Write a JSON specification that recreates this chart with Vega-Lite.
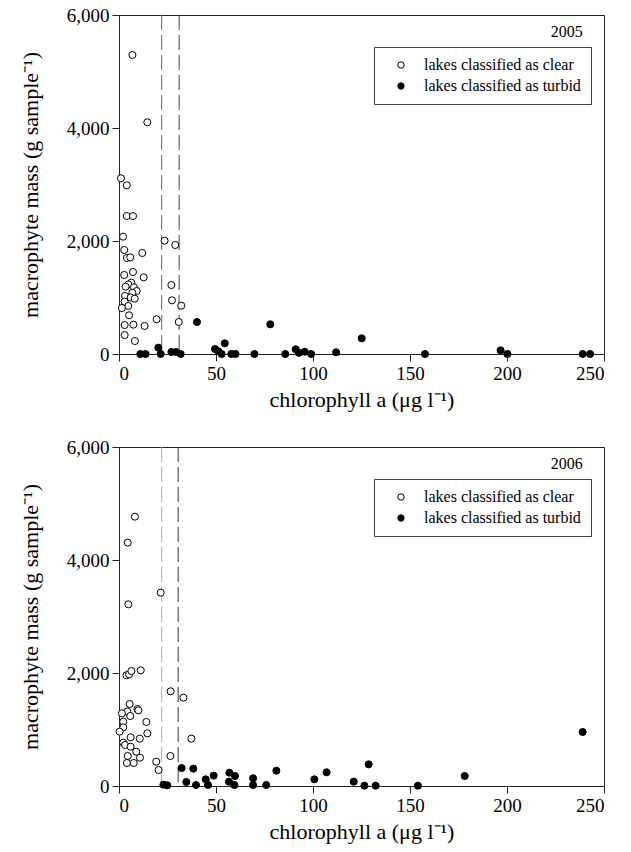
{
  "$schema": "https://vega.github.io/schema/vega-lite/v6.json",
  "background": "white",
  "padding": {"left": 18, "top": 5, "right": 5, "bottom": 5},
  "datasets": {
    "d2005": [
      {"chl": 6.9, "mass": 5292, "status": "lakes classified as clear"},
      {"chl": 14.6, "mass": 4101, "status": "lakes classified as clear"},
      {"chl": 1.0, "mass": 3110, "status": "lakes classified as clear"},
      {"chl": 4.0, "mass": 2985, "status": "lakes classified as clear"},
      {"chl": 4.0, "mass": 2442, "status": "lakes classified as clear"},
      {"chl": 7.2, "mass": 2442, "status": "lakes classified as clear"},
      {"chl": 2.1, "mass": 2077, "status": "lakes classified as clear"},
      {"chl": 23.5, "mass": 2006, "status": "lakes classified as clear"},
      {"chl": 29.0, "mass": 1929, "status": "lakes classified as clear"},
      {"chl": 2.7, "mass": 1841, "status": "lakes classified as clear"},
      {"chl": 12.0, "mass": 1788, "status": "lakes classified as clear"},
      {"chl": 4.1, "mass": 1699, "status": "lakes classified as clear"},
      {"chl": 5.8, "mass": 1711, "status": "lakes classified as clear"},
      {"chl": 7.2, "mass": 1451, "status": "lakes classified as clear"},
      {"chl": 2.7, "mass": 1398, "status": "lakes classified as clear"},
      {"chl": 12.7, "mass": 1357, "status": "lakes classified as clear"},
      {"chl": 6.4, "mass": 1262, "status": "lakes classified as clear"},
      {"chl": 4.8, "mass": 1230, "status": "lakes classified as clear"},
      {"chl": 3.4, "mass": 1192, "status": "lakes classified as clear"},
      {"chl": 7.7, "mass": 1180, "status": "lakes classified as clear"},
      {"chl": 27.0, "mass": 1221, "status": "lakes classified as clear"},
      {"chl": 9.1, "mass": 1115, "status": "lakes classified as clear"},
      {"chl": 6.9, "mass": 1085, "status": "lakes classified as clear"},
      {"chl": 3.1, "mass": 1027, "status": "lakes classified as clear"},
      {"chl": 6.0, "mass": 1000, "status": "lakes classified as clear"},
      {"chl": 8.1, "mass": 979, "status": "lakes classified as clear"},
      {"chl": 27.3, "mass": 950, "status": "lakes classified as clear"},
      {"chl": 2.9, "mass": 926, "status": "lakes classified as clear"},
      {"chl": 4.8, "mass": 850, "status": "lakes classified as clear"},
      {"chl": 1.5, "mass": 814, "status": "lakes classified as clear"},
      {"chl": 32.1, "mass": 855, "status": "lakes classified as clear"},
      {"chl": 5.2, "mass": 685, "status": "lakes classified as clear"},
      {"chl": 13.2, "mass": 496, "status": "lakes classified as clear"},
      {"chl": 19.4, "mass": 614, "status": "lakes classified as clear"},
      {"chl": 30.8, "mass": 566, "status": "lakes classified as clear"},
      {"chl": 2.9, "mass": 513, "status": "lakes classified as clear"},
      {"chl": 7.4, "mass": 519, "status": "lakes classified as clear"},
      {"chl": 2.9, "mass": 336, "status": "lakes classified as clear"},
      {"chl": 8.2, "mass": 230, "status": "lakes classified as clear"},
      {"chl": 40.2, "mass": 566, "status": "lakes classified as turbid"},
      {"chl": 78.0, "mass": 525, "status": "lakes classified as turbid"},
      {"chl": 20.3, "mass": 112, "status": "lakes classified as turbid"},
      {"chl": 11.0, "mass": 0, "status": "lakes classified as turbid"},
      {"chl": 13.7, "mass": 0, "status": "lakes classified as turbid"},
      {"chl": 21.5, "mass": 0, "status": "lakes classified as turbid"},
      {"chl": 27.0, "mass": 35, "status": "lakes classified as turbid"},
      {"chl": 29.5, "mass": 35, "status": "lakes classified as turbid"},
      {"chl": 31.8, "mass": 0, "status": "lakes classified as turbid"},
      {"chl": 49.5, "mass": 88, "status": "lakes classified as turbid"},
      {"chl": 51.2, "mass": 47, "status": "lakes classified as turbid"},
      {"chl": 54.5, "mass": 189, "status": "lakes classified as turbid"},
      {"chl": 52.9, "mass": 0, "status": "lakes classified as turbid"},
      {"chl": 57.9, "mass": 0, "status": "lakes classified as turbid"},
      {"chl": 60.1, "mass": 0, "status": "lakes classified as turbid"},
      {"chl": 69.8, "mass": 0, "status": "lakes classified as turbid"},
      {"chl": 85.7, "mass": 0, "status": "lakes classified as turbid"},
      {"chl": 91.1, "mass": 83, "status": "lakes classified as turbid"},
      {"chl": 92.8, "mass": 20, "status": "lakes classified as turbid"},
      {"chl": 95.7, "mass": 41, "status": "lakes classified as turbid"},
      {"chl": 99.0, "mass": 0, "status": "lakes classified as turbid"},
      {"chl": 111.9, "mass": 30, "status": "lakes classified as turbid"},
      {"chl": 125.1, "mass": 277, "status": "lakes classified as turbid"},
      {"chl": 157.7, "mass": 0, "status": "lakes classified as turbid"},
      {"chl": 196.7, "mass": 65, "status": "lakes classified as turbid"},
      {"chl": 200.2, "mass": 0, "status": "lakes classified as turbid"},
      {"chl": 239.0, "mass": 0, "status": "lakes classified as turbid"},
      {"chl": 242.8, "mass": 0, "status": "lakes classified as turbid"}
    ],
    "d2006": [
      {"chl": 8.2, "mass": 4767, "status": "lakes classified as clear"},
      {"chl": 4.5, "mass": 4307, "status": "lakes classified as clear"},
      {"chl": 4.8, "mass": 3215, "status": "lakes classified as clear"},
      {"chl": 21.5, "mass": 3422, "status": "lakes classified as clear"},
      {"chl": 3.8, "mass": 1959, "status": "lakes classified as clear"},
      {"chl": 5.2, "mass": 1976, "status": "lakes classified as clear"},
      {"chl": 6.4, "mass": 2035, "status": "lakes classified as clear"},
      {"chl": 11.2, "mass": 2047, "status": "lakes classified as clear"},
      {"chl": 26.6, "mass": 1676, "status": "lakes classified as clear"},
      {"chl": 33.2, "mass": 1563, "status": "lakes classified as clear"},
      {"chl": 5.5, "mass": 1451, "status": "lakes classified as clear"},
      {"chl": 9.5, "mass": 1363, "status": "lakes classified as clear"},
      {"chl": 10.0, "mass": 1340, "status": "lakes classified as clear"},
      {"chl": 4.2, "mass": 1320, "status": "lakes classified as clear"},
      {"chl": 1.5, "mass": 1286, "status": "lakes classified as clear"},
      {"chl": 5.8, "mass": 1239, "status": "lakes classified as clear"},
      {"chl": 14.1, "mass": 1133, "status": "lakes classified as clear"},
      {"chl": 2.2, "mass": 1139, "status": "lakes classified as clear"},
      {"chl": 2.2, "mass": 1038, "status": "lakes classified as clear"},
      {"chl": 0.3, "mass": 962, "status": "lakes classified as clear"},
      {"chl": 14.6, "mass": 932, "status": "lakes classified as clear"},
      {"chl": 37.3, "mass": 838, "status": "lakes classified as clear"},
      {"chl": 6.0, "mass": 862, "status": "lakes classified as clear"},
      {"chl": 10.7, "mass": 838, "status": "lakes classified as clear"},
      {"chl": 2.2, "mass": 767, "status": "lakes classified as clear"},
      {"chl": 3.1, "mass": 726, "status": "lakes classified as clear"},
      {"chl": 6.0, "mass": 696, "status": "lakes classified as clear"},
      {"chl": 8.9, "mass": 608, "status": "lakes classified as clear"},
      {"chl": 4.5, "mass": 531, "status": "lakes classified as clear"},
      {"chl": 26.5, "mass": 531, "status": "lakes classified as clear"},
      {"chl": 10.8, "mass": 501, "status": "lakes classified as clear"},
      {"chl": 4.1, "mass": 407, "status": "lakes classified as clear"},
      {"chl": 7.6, "mass": 407, "status": "lakes classified as clear"},
      {"chl": 19.2, "mass": 431, "status": "lakes classified as clear"},
      {"chl": 20.4, "mass": 283, "status": "lakes classified as clear"},
      {"chl": 22.9, "mass": 24, "status": "lakes classified as turbid"},
      {"chl": 24.9, "mass": 12, "status": "lakes classified as turbid"},
      {"chl": 32.3, "mass": 318, "status": "lakes classified as turbid"},
      {"chl": 38.3, "mass": 307, "status": "lakes classified as turbid"},
      {"chl": 34.7, "mass": 71, "status": "lakes classified as turbid"},
      {"chl": 39.7, "mass": 18, "status": "lakes classified as turbid"},
      {"chl": 44.7, "mass": 118, "status": "lakes classified as turbid"},
      {"chl": 48.8, "mass": 183, "status": "lakes classified as turbid"},
      {"chl": 45.9, "mass": 18, "status": "lakes classified as turbid"},
      {"chl": 56.9, "mass": 236, "status": "lakes classified as turbid"},
      {"chl": 56.7, "mass": 77, "status": "lakes classified as turbid"},
      {"chl": 59.8, "mass": 177, "status": "lakes classified as turbid"},
      {"chl": 59.5, "mass": 18, "status": "lakes classified as turbid"},
      {"chl": 69.1, "mass": 136, "status": "lakes classified as turbid"},
      {"chl": 69.1, "mass": 18, "status": "lakes classified as turbid"},
      {"chl": 75.9, "mass": 18, "status": "lakes classified as turbid"},
      {"chl": 81.1, "mass": 271, "status": "lakes classified as turbid"},
      {"chl": 100.7, "mass": 118, "status": "lakes classified as turbid"},
      {"chl": 107.0, "mass": 242, "status": "lakes classified as turbid"},
      {"chl": 121.0, "mass": 77, "status": "lakes classified as turbid"},
      {"chl": 126.5, "mass": 6, "status": "lakes classified as turbid"},
      {"chl": 128.7, "mass": 383, "status": "lakes classified as turbid"},
      {"chl": 132.3, "mass": 6, "status": "lakes classified as turbid"},
      {"chl": 154.1, "mass": 6, "status": "lakes classified as turbid"},
      {"chl": 178.2, "mass": 177, "status": "lakes classified as turbid"},
      {"chl": 239.0, "mass": 956, "status": "lakes classified as turbid"}
    ]
  },
  "spacing": 93,
  "bounds": "flush",
  "resolve": {"scale": {"fill": "independent"}, "legend": {"fill": "independent"}},
  "vconcat": [
    {
      "width": 485,
      "height": 339,
      "layer": [
        {
          "data": {"values": [{"chl": 22}]},
          "mark": {"type": "rule", "color": "#666", "strokeDash": [15, 5], "strokeWidth": 1},
          "encoding": {"x": {"field": "chl", "type": "quantitative", "scale": {"domain": [0, 250], "nice": false}}}
        },
        {
          "data": {"values": [{"chl": 31}]},
          "mark": {"type": "rule", "color": "#444", "strokeDash": [15, 5], "strokeWidth": 1},
          "encoding": {"x": {"field": "chl", "type": "quantitative"}}
        },
        {
          "data": {"name": "d2005"},
          "mark": {"type": "circle", "size": 50, "stroke": "black", "strokeWidth": 1, "opacity": 1},
          "encoding": {
            "x": {"field": "chl", "type": "quantitative", "scale": {"domain": [0, 250], "nice": false}, "axis": {"values": [0, 50, 100, 150, 200, 250], "title": "chlorophyll a (μg l⁻¹)", "labelFont": "Liberation Serif", "labelFontSize": 19, "titleFont": "Liberation Serif", "titleFontSize": 22, "titleFontWeight": "normal", "titlePadding": 6}},
            "y": {"field": "mass", "type": "quantitative", "scale": {"domain": [0, 6000], "nice": false}, "axis": {"values": [0, 2000, 4000, 6000], "format": ",.0f", "title": "macrophyte mass (g sample⁻¹)", "labelFont": "Liberation Serif", "labelFontSize": 19, "titleFont": "Liberation Serif", "titleFontSize": 22, "titleFontWeight": "normal", "titlePadding": 24}},
            "fill": {"field": "status", "type": "nominal", "scale": {"domain": ["lakes classified as clear", "lakes classified as turbid"], "range": ["white", "black"]},
              "legend": {"title": null, "orient": "none", "legendX": 255, "legendY": 32, "strokeColor": "#444", "fillColor": "white", "padding": 10, "symbolOffset": 9, "labelOffset": 15, "rowPadding": 5, "labelFontSize": 16, "labelFont": "Liberation Serif", "labelColor": "black", "symbolType": "circle", "symbolSize": 40, "symbolStrokeColor": "black", "symbolStrokeWidth": 1}}
          }
        },
        {
          "data": {"values": [{"label": "2005"}]},
          "mark": {"type": "text", "align": "right", "baseline": "middle", "font": "Liberation Serif", "fontSize": 16, "color": "black"},
          "encoding": {"x": {"datum": 239, "type": "quantitative"}, "y": {"datum": 5700, "type": "quantitative"}, "text": {"field": "label", "type": "nominal"}}
        }
      ]
    },
    {
      "width": 485,
      "height": 339,
      "layer": [
        {
          "data": {"values": [{"chl": 22}]},
          "mark": {"type": "rule", "color": "#aaa", "strokeDash": [15, 5], "strokeWidth": 1},
          "encoding": {"x": {"field": "chl", "type": "quantitative", "scale": {"domain": [0, 250], "nice": false}}}
        },
        {
          "data": {"values": [{"chl": 30.5}]},
          "mark": {"type": "rule", "color": "#333", "strokeDash": [15, 5], "strokeWidth": 1},
          "encoding": {"x": {"field": "chl", "type": "quantitative"}}
        },
        {
          "data": {"name": "d2006"},
          "mark": {"type": "circle", "size": 50, "stroke": "black", "strokeWidth": 1, "opacity": 1},
          "encoding": {
            "x": {"field": "chl", "type": "quantitative", "scale": {"domain": [0, 250], "nice": false}, "axis": {"values": [0, 50, 100, 150, 200, 250], "title": "chlorophyll a (μg l⁻¹)", "labelFont": "Liberation Serif", "labelFontSize": 19, "titleFont": "Liberation Serif", "titleFontSize": 22, "titleFontWeight": "normal", "titlePadding": 6}},
            "y": {"field": "mass", "type": "quantitative", "scale": {"domain": [0, 6000], "nice": false}, "axis": {"values": [0, 2000, 4000, 6000], "format": ",.0f", "title": "macrophyte mass (g sample⁻¹)", "labelFont": "Liberation Serif", "labelFontSize": 19, "titleFont": "Liberation Serif", "titleFontSize": 22, "titleFontWeight": "normal", "titlePadding": 24}},
            "fill": {"field": "status", "type": "nominal", "scale": {"domain": ["lakes classified as clear", "lakes classified as turbid"], "range": ["white", "black"]},
              "legend": {"title": null, "orient": "none", "legendX": 255, "legendY": 32, "strokeColor": "#444", "fillColor": "white", "padding": 10, "symbolOffset": 9, "labelOffset": 15, "rowPadding": 5, "labelFontSize": 16, "labelFont": "Liberation Serif", "labelColor": "black", "symbolType": "circle", "symbolSize": 40, "symbolStrokeColor": "black", "symbolStrokeWidth": 1}}
          }
        },
        {
          "data": {"values": [{"label": "2006"}]},
          "mark": {"type": "text", "align": "right", "baseline": "middle", "font": "Liberation Serif", "fontSize": 16, "color": "black"},
          "encoding": {"x": {"datum": 239, "type": "quantitative"}, "y": {"datum": 5700, "type": "quantitative"}, "text": {"field": "label", "type": "nominal"}}
        }
      ]
    }
  ],
  "config": {
    "font": "Liberation Serif",
    "view": {"stroke": "#222", "strokeWidth": 1},
    "axis": {"grid": false, "domainColor": "#222", "tickColor": "#222", "labelColor": "black", "titleColor": "black", "labelFont": "Liberation Serif", "titleFont": "Liberation Serif", "labelFontSize": 19, "titleFontSize": 22, "titleFontWeight": "normal", "tickSize": 7, "labelPadding": 3}
  }
}
